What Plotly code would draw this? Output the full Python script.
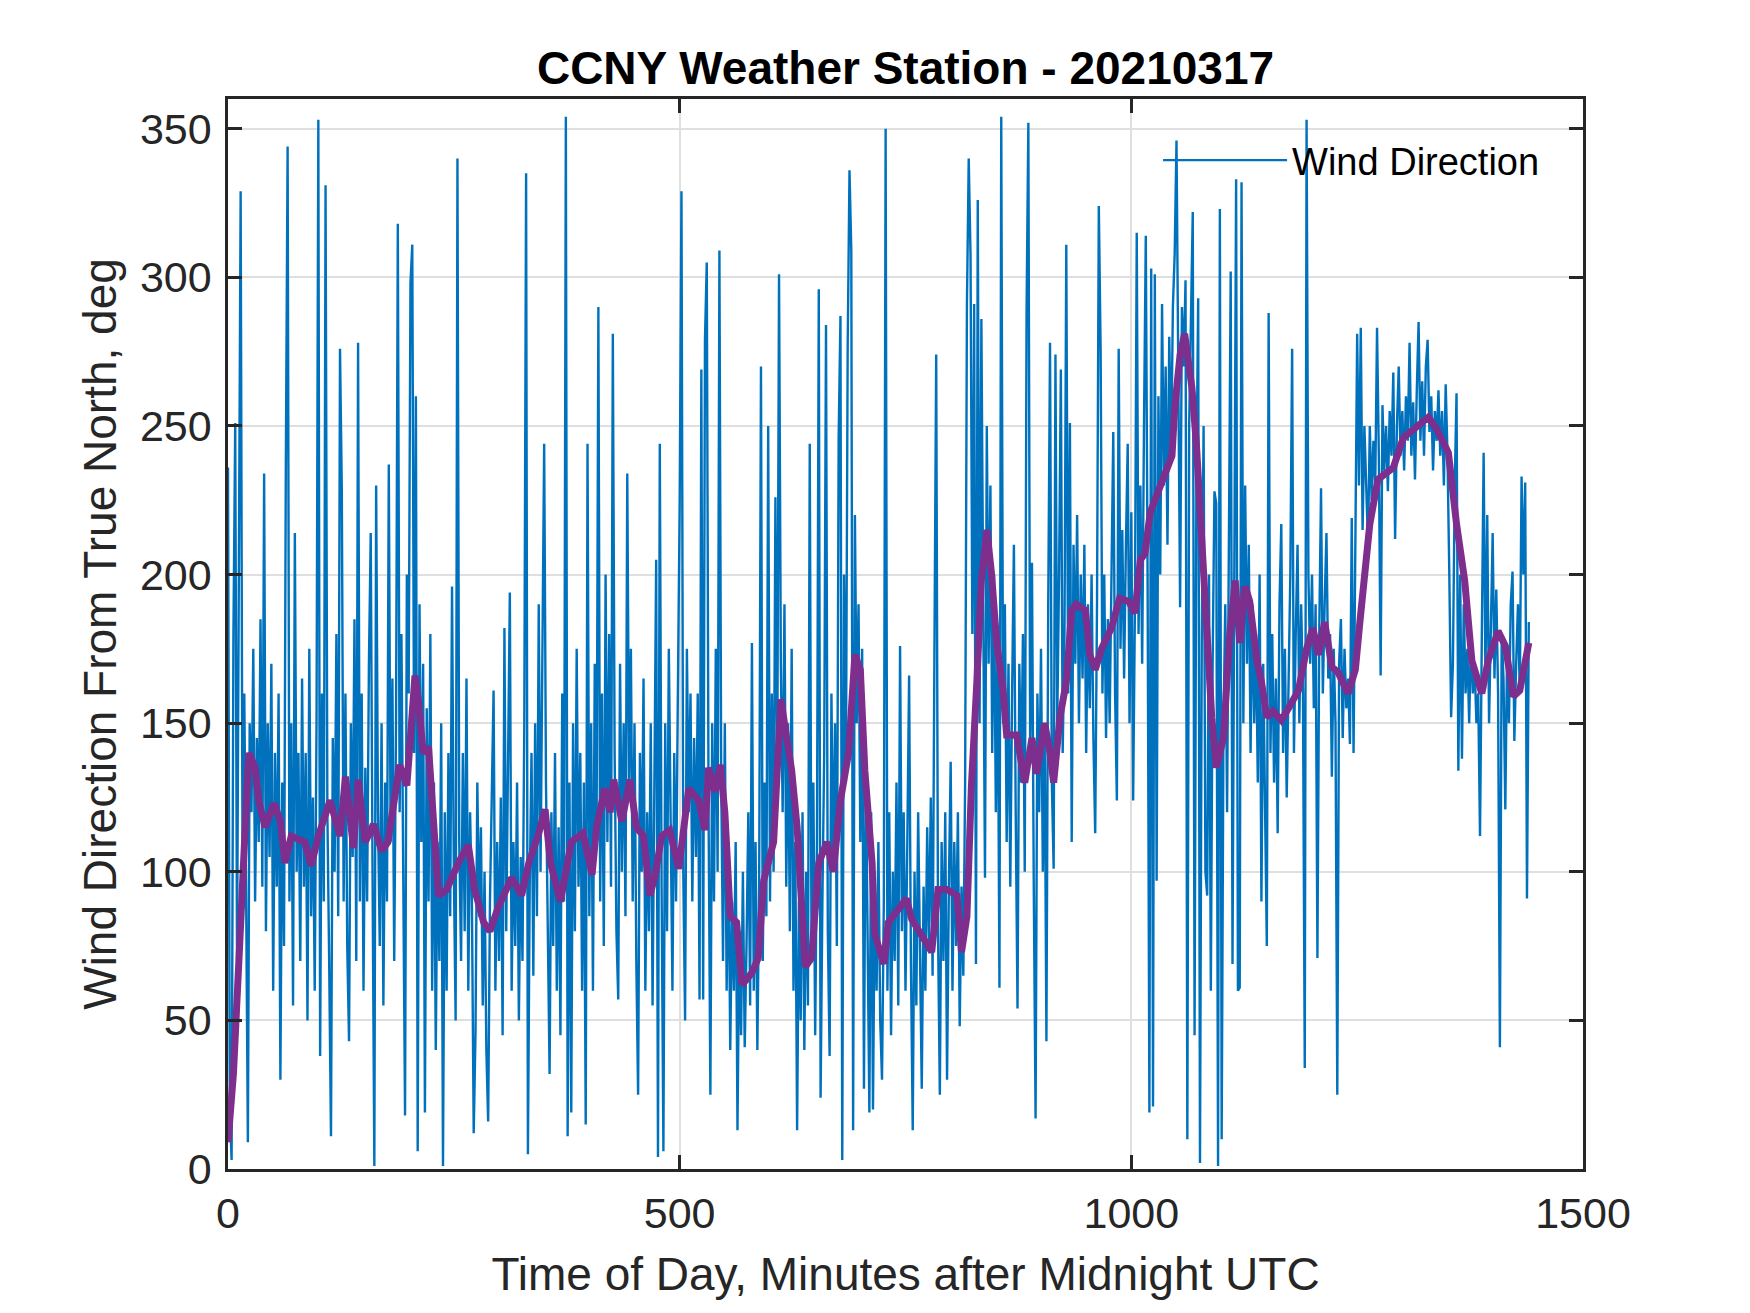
import plotly.graph_objects as go

# wind direction samples, every 2 minutes (0..1440)
minutes = list(range(0, 1441, 2))
wind_dir = [
    236, 20, 3, 180, 251, 70, 200, 329, 110, 160,
    95, 9, 150, 120, 175, 90, 145, 110, 185, 95,
    234, 80, 150, 105, 170, 60, 140, 95, 160, 30,
    130, 75, 235, 344, 90, 150, 55, 214, 100, 140,
    70, 165, 95, 140, 50, 175, 85, 125, 60, 150,
    353, 38, 160, 90, 331, 120, 70, 11, 145, 100,
    180, 85, 276, 228, 90, 160, 75, 43, 150, 105,
    185, 70, 278, 90, 160, 60, 135, 90, 170, 214,
    100, 1, 230, 120, 75, 150, 55, 130, 90, 237,
    110, 165, 70, 150, 318, 120, 180, 80, 18, 200,
    160, 298, 311, 140, 260, 6, 190, 110, 170, 19,
    155, 90, 180, 60, 130, 40, 110, 70, 150, 1,
    120, 60, 140, 85, 196, 100, 50, 340, 110, 70,
    140, 80, 165, 60, 120, 90, 12, 46, 130, 85,
    115, 55, 100, 40, 16, 90, 130, 161, 60, 110,
    70, 125, 45, 182, 80, 135, 194, 60, 110, 75,
    130, 50, 105, 70, 150, 335, 5, 95, 140, 65,
    150, 85, 190, 100, 160, 244, 130, 70, 32, 120,
    75, 140, 60, 115, 45, 160, 90, 354, 11, 130,
    19, 150, 80, 175, 95, 140, 60, 130, 15, 244,
    85, 150, 60, 170, 110, 290, 90, 160, 75, 200,
    110, 180, 95, 281, 140, 80, 57, 170, 100, 150,
    85, 234, 130, 175, 90, 150, 70, 25, 140, 100,
    165, 60, 120, 80, 150, 55, 130, 205, 4, 244,
    95, 6, 150, 80, 175, 110, 60, 140, 90, 160,
    224, 329, 100, 50, 175, 120, 160, 90, 145, 105,
    160, 57, 269, 57, 279, 305, 120, 25, 150, 90,
    175, 100, 309, 130, 70, 150, 60, 110, 40, 90,
    60, 110, 13, 80, 45, 100, 41, 75, 120, 55,
    177, 60, 110, 40, 95, 270, 70, 130, 85, 250,
    90, 160, 100, 226, 130, 301, 170, 120, 190, 95,
    150, 80, 175, 60, 110, 13, 90, 50, 120, 40,
    100, 55, 244, 70, 130, 45, 110, 296, 24, 90,
    140, 284, 80, 38, 160, 100, 150, 75, 246, 287,
    3, 200, 130, 277, 336, 309, 13, 220, 150, 190,
    110, 175, 27, 140, 75, 19, 120, 20, 95, 60,
    110, 50, 30, 90, 350, 60, 120, 45, 100, 70,
    130, 55, 176, 80, 120, 60, 110, 166, 70, 13,
    100, 55, 120, 70, 27, 95, 60, 115, 75, 125,
    65, 173, 274, 80, 25, 110, 70, 120, 30, 95,
    137, 60, 110, 75, 120, 48, 95, 65, 130, 291,
    340, 307, 180, 291, 69, 326, 150, 286, 200, 98,
    250, 170, 230, 140, 200, 120, 180, 61, 354, 150,
    190, 110, 170, 95, 160, 210, 120, 54, 170, 130,
    180, 100, 288, 352, 140, 204, 95, 17, 160, 120,
    175, 100, 150, 43, 190, 278, 130, 101, 274, 150,
    200, 269, 140, 180, 311, 160, 251, 110, 210, 170,
    220, 150, 200, 165, 210, 140, 190, 155, 200, 145,
    113, 190, 324, 276, 160, 200, 145, 185, 150, 210,
    248, 160, 124, 276, 175, 215, 165, 210, 244, 150,
    221, 124, 190, 315, 180, 230, 170, 250, 314, 200,
    19, 303, 21, 301, 97, 260, 200, 291, 230, 270,
    210, 280, 240, 290, 308, 346, 260, 189, 290, 270,
    299, 10, 250, 280, 322, 45, 230, 293, 2, 180,
    250, 100, 92, 200, 60, 170, 228, 224, 1, 323,
    10, 150, 190, 120, 230, 302, 69, 210, 333, 60,
    61, 332, 150, 230, 170, 210, 140, 190, 150, 180,
    130, 200, 90, 170, 130, 75, 288, 140, 180, 130,
    165, 113, 190, 217, 140, 175, 125, 160, 200, 276,
    140, 180, 210, 150, 190, 160, 34, 353, 200, 170,
    200, 155, 190, 71, 180, 229, 160, 190, 214, 165,
    180, 132, 175, 150, 25, 170, 185, 145, 175, 155,
    165, 143, 219, 140, 200, 281, 230, 283, 215, 250,
    230, 210, 250, 225, 245, 230, 283, 240, 166, 257,
    235, 250, 228, 255, 240, 268, 212, 250, 270, 240,
    255, 235, 260, 245, 278, 240, 258, 232, 262, 285,
    245, 265, 240, 270, 279, 248, 260, 235, 255, 245,
    262, 240, 255, 230, 264, 240, 200, 152, 170, 230,
    261, 134, 200, 138, 190, 160, 175, 150, 180, 160,
    170, 150, 160, 112, 180, 241, 165, 220, 150, 190,
    214, 165, 195, 160, 41, 180, 165, 121, 175, 150,
    190, 201, 144, 170, 190, 160, 233, 200, 231, 91,
    184,
]

# smoothed (running mean) curve
avg_minutes = [
    0, 6, 13, 19, 23, 30, 34, 41, 51, 58, 63, 70, 85, 92, 100, 113, 119, 124,
    130, 135, 139, 144, 152, 161, 170, 177, 185, 190, 198, 203, 207, 211, 216,
    222, 227, 233, 242, 255, 266, 273, 283, 290, 299, 314, 325, 333, 344, 351,
    357, 368, 380, 393, 403, 408, 417, 423, 427, 436, 445, 452, 460, 467, 473,
    480, 489, 499, 510, 521, 528, 532, 539, 545, 550, 556, 563, 569, 580, 587,
    593, 604, 612, 617, 624, 630, 635, 639, 646, 654, 663, 670, 678, 687, 694,
    700, 705, 713, 716, 726, 731, 742, 751, 757, 766, 779, 786, 796, 807, 812,
    818, 823, 829, 834, 840, 845, 851, 858, 862, 873, 882, 890, 895, 904, 910,
    914, 921, 928, 934, 939, 949, 954, 960, 967, 978, 987, 997, 1004, 1010,
    1015, 1021, 1030, 1037, 1045, 1048, 1054, 1059, 1067, 1072, 1078, 1083,
    1089, 1094, 1102, 1109, 1115, 1120, 1126, 1131, 1139, 1144, 1150, 1157,
    1166, 1174, 1185, 1194, 1201, 1207, 1214, 1222, 1229, 1240, 1248, 1253,
    1259, 1264, 1273, 1290, 1301, 1316, 1329, 1338, 1351, 1360, 1369, 1377,
    1388, 1395, 1406, 1414, 1423, 1430, 1440,
]
avg_dir = [
    9, 32, 76, 117, 140, 135, 124, 115, 123, 117, 103, 112, 110, 102, 112, 124,
    117, 112, 132, 117, 108, 131, 110, 116, 107, 110, 124, 136, 129, 152, 166,
    157, 140, 142, 117, 92, 94, 103, 109, 94, 83, 80, 88, 98, 92, 103, 113,
    121, 103, 90, 110, 113, 99, 115, 128, 120, 131, 117, 131, 115, 112, 92, 99,
    112, 114, 101, 128, 124, 114, 135, 127, 136, 120, 85, 83, 62, 66, 71, 97,
    110, 158, 147, 134, 115, 87, 68, 71, 103, 110, 100, 124, 140, 173, 168,
    134, 103, 79, 69, 83, 87, 91, 84, 79, 73, 94, 94, 92, 73, 85, 129, 164,
    198, 215, 201, 177, 161, 146, 146, 130, 145, 133, 150, 140, 130, 152, 164,
    188, 190, 188, 173, 168, 175, 182, 192, 191, 187, 205, 207, 221, 228, 235,
    240, 256, 274, 281, 263, 244, 210, 180, 152, 135, 145, 180, 198, 177, 196,
    191, 171, 164, 152, 154, 151, 155, 161, 175, 182, 173, 184, 169, 167, 160,
    168, 184, 203, 217, 232, 236, 246, 250, 253, 249, 241, 217, 198, 171, 160,
    171, 181, 176, 159, 161, 177,
]

x_ticks = [0, 500, 1000, 1500]
y_ticks = [0, 50, 100, 150, 200, 250, 300, 350]

font_family = "Liberation Sans, Arial, Helvetica, sans-serif"
axis_color = "#262626"
grid_color = "#dfdfdf"

fig = go.Figure()
fig.add_trace(go.Scatter(x=minutes, y=wind_dir, mode="lines", name="Wind Direction",
                         line=dict(color="#0072BD", width=2.4)))
fig.add_trace(go.Scatter(x=avg_minutes, y=avg_dir, mode="lines", showlegend=False,
                         line=dict(color="#7E2F8E", width=7)))

axis_common = dict(showline=True, linecolor=axis_color, linewidth=2.5, mirror="ticks",
                   ticks="inside", ticklen=14, tickwidth=2.5, tickcolor=axis_color,
                   showgrid=True, gridcolor=grid_color, gridwidth=2, zeroline=False,
                   tickfont=dict(size=43, color=axis_color, family=font_family))

fig.update_xaxes(range=[0, 1500], tickvals=x_ticks, ticklabelstandoff=5,
                 title=dict(text="Time of Day, Minutes after Midnight UTC",
                            font=dict(size=46, color=axis_color, family=font_family),
                            standoff=22),
                 **axis_common)
fig.update_yaxes(range=[0, 360], tickvals=y_ticks, ticklabelstandoff=5,
                 title=dict(text="Wind Direction From True North, deg",
                            font=dict(size=46, color=axis_color, family=font_family),
                            standoff=9),
                 **axis_common)

# the page adds an 8px body margin, so margins are trimmed by 8px
fig.update_layout(
    width=1750, height=1313,
    margin=dict(l=220, r=175, t=91, b=152),
    plot_bgcolor="white", paper_bgcolor="white",
    title=dict(text="<b>CCNY Weather Station - 20210317</b>", x=0.5, xref="paper",
               y=1 - 60 / 1313, yref="container", yanchor="middle",
               font=dict(size=46, color="black", family=font_family)),
    legend=dict(x=0.972, y=0.972, xanchor="right", yanchor="top",
                bgcolor="rgba(255,255,255,0)", itemwidth=124,
                font=dict(size=38, color="black", family=font_family)),
    showlegend=True,
)

fig.write_html("out.html")
